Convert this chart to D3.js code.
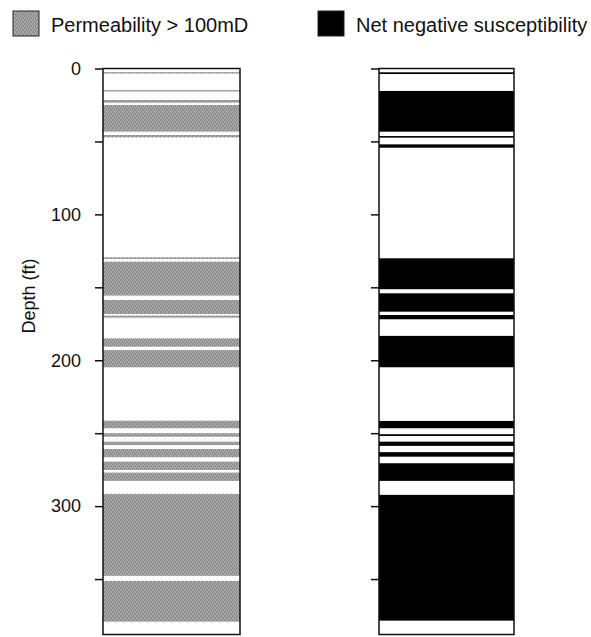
<!DOCTYPE html>
<html>
<head>
<meta charset="utf-8">
<script src="https://cdn.jsdelivr.net/npm/d3@7"></script>
<style>
  html, body { margin: 0; padding: 0; background: #fff; }
  svg { display: block; font-family: "Liberation Sans", Arial, Helvetica, sans-serif; }
</style>
</head>
<body>
<svg id="chart" width="591" height="637"></svg>
<script>
// depth intervals in ft: [top, bottom]
const permeabilityBands = [
  [2.5, 3.5], [14.8, 15.8], [21.6, 23.4], [25, 43.3], [45.6, 47.2],
  [129.4, 130.6], [132.4, 155.7], [158.7, 168.3], [169.4, 170.8],
  [185, 190.7], [193, 204.8], [241.4, 246.6], [250, 252.4], [255.8, 258.1],
  [260.8, 266.5], [269.5, 275.2], [277, 282.7], [291.6, 347.8], [351.3, 379.2]
];
const negativeSusBands = [
  [2.6, 3.8], [15.4, 43.3], [46.3, 47.4], [52, 54.3],
  [130.1, 151.3], [154.1, 166.7], [169, 171.9], [183.3, 204.8],
  [241.6, 246.6], [250.7, 251.9], [255.8, 258.7], [263, 266.1],
  [270.6, 282.7], [292.3, 378.5]
];
const depthTicks = [0, 50, 100, 150, 200, 250, 300, 350];
const depthLabels = [0, 100, 200, 300];
const maxDepth = 388;

const svg = d3.select("#chart");

// fine irregular stipple so it reads as flat grey, not as hatching
const defs = svg.append("defs");
const pat = defs.append("pattern")
  .attr("id", "stipple")
  .attr("patternUnits", "userSpaceOnUse")
  .attr("width", 4).attr("height", 4);
pat.append("rect").attr("width", 4).attr("height", 4).attr("fill", "#a6a6a6");
[[0, 0], [2, 1], [1, 3], [3, 2]].forEach(([px, py]) => {
  pat.append("rect").attr("x", px).attr("y", py)
    .attr("width", 1).attr("height", 1).attr("fill", "#7a7a7a");
});

const y = d3.scaleLinear().domain([0, maxDepth]).range([68.5, 634.5]);

const columns = [
  { x0: 103, x1: 240, bands: permeabilityBands, fill: "url(#stipple)", labels: true },
  { x0: 379, x1: 514, bands: negativeSusBands, fill: "#000", labels: false }
];

columns.forEach((col) => {
  const g = svg.append("g");

  g.selectAll("rect.band")
    .data(col.bands)
    .join("rect")
    .attr("class", "band")
    .attr("x", col.x0)
    .attr("width", col.x1 - col.x0)
    .attr("y", (d) => y(d[0]))
    .attr("height", (d) => y(d[1]) - y(d[0]))
    .attr("fill", col.fill);

  g.append("rect")
    .attr("x", col.x0)
    .attr("y", y(0))
    .attr("width", col.x1 - col.x0)
    .attr("height", y(maxDepth) - y(0))
    .attr("fill", "none")
    .attr("stroke", "#111")
    .attr("stroke-width", 1.5);

  const axis = d3.axisLeft(y)
    .tickValues(depthTicks)
    .tickSize(8)
    .tickPadding(14)
    .tickFormat((d) => (col.labels && depthLabels.includes(d) ? d : ""));

  const ax = svg.append("g")
    .attr("transform", `translate(${col.x0},0)`)
    .call(axis);
  ax.select(".domain").remove();
  ax.selectAll(".tick line").attr("stroke", "#111").attr("stroke-width", 1.5);
  ax.selectAll(".tick text")
    .attr("fill", "#111")
    .style("font-size", "18px")
    .style("font-family", "'Liberation Sans', Arial, sans-serif");
});

svg.append("text")
  .attr("transform", "translate(35,296) rotate(-90)")
  .attr("text-anchor", "middle")
  .attr("fill", "#111")
  .style("font-size", "18px")
  .text("Depth (ft)");

// legend
const legend = [
  { x: 13, label: "Permeability > 100mD", fill: "url(#stipple)" },
  { x: 318, label: "Net negative susceptibility", fill: "#000" }
];
legend.forEach((l) => {
  svg.append("rect")
    .attr("x", l.x).attr("y", 11)
    .attr("width", 26).attr("height", 25)
    .attr("fill", l.fill)
    .attr("stroke", "#222").attr("stroke-width", 1);
  svg.append("text")
    .attr("x", l.x + 38).attr("y", 32)
    .attr("fill", "#111")
    .style("font-size", "20px")
    .text(l.label);
});
</script>
</body>
</html>
